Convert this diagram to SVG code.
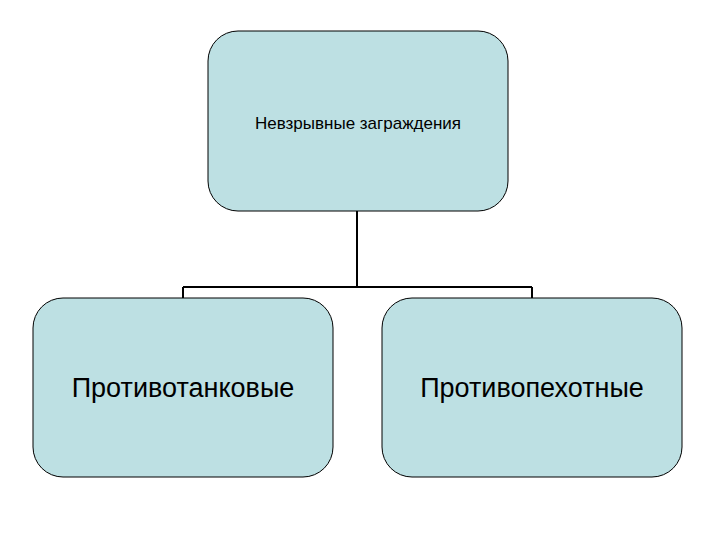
<svg xmlns="http://www.w3.org/2000/svg" width="720" height="540" viewBox="0 0 720 540">
<style>
.box{fill:#bde0e3;stroke:#000;stroke-width:1}
.t{font-family:"Liberation Sans",Arial,sans-serif;fill:#000;text-anchor:middle}
.c{stroke:#000;stroke-width:2;fill:none}
</style>
<rect width="720" height="540" fill="#fff"/>
<g id="connectors">
<path class="c" d="M357 211V287M183 287H532M183 287V298M532 287V298"/>
</g>
<g id="n1"><rect class="box" x="208" y="31" width="300" height="180" rx="30"/><text class="t" x="358" y="129" font-size="17">Невзрывные заграждения</text></g>
<g id="n2"><rect class="box" x="33" y="298" width="300" height="179" rx="30"/><text class="t" x="183" y="397" font-size="27">Противотанковые</text></g>
<g id="n3"><rect class="box" x="382" y="298" width="300" height="179" rx="30"/><text class="t" x="532" y="397" font-size="27">Противопехотные</text></g>
</svg>
